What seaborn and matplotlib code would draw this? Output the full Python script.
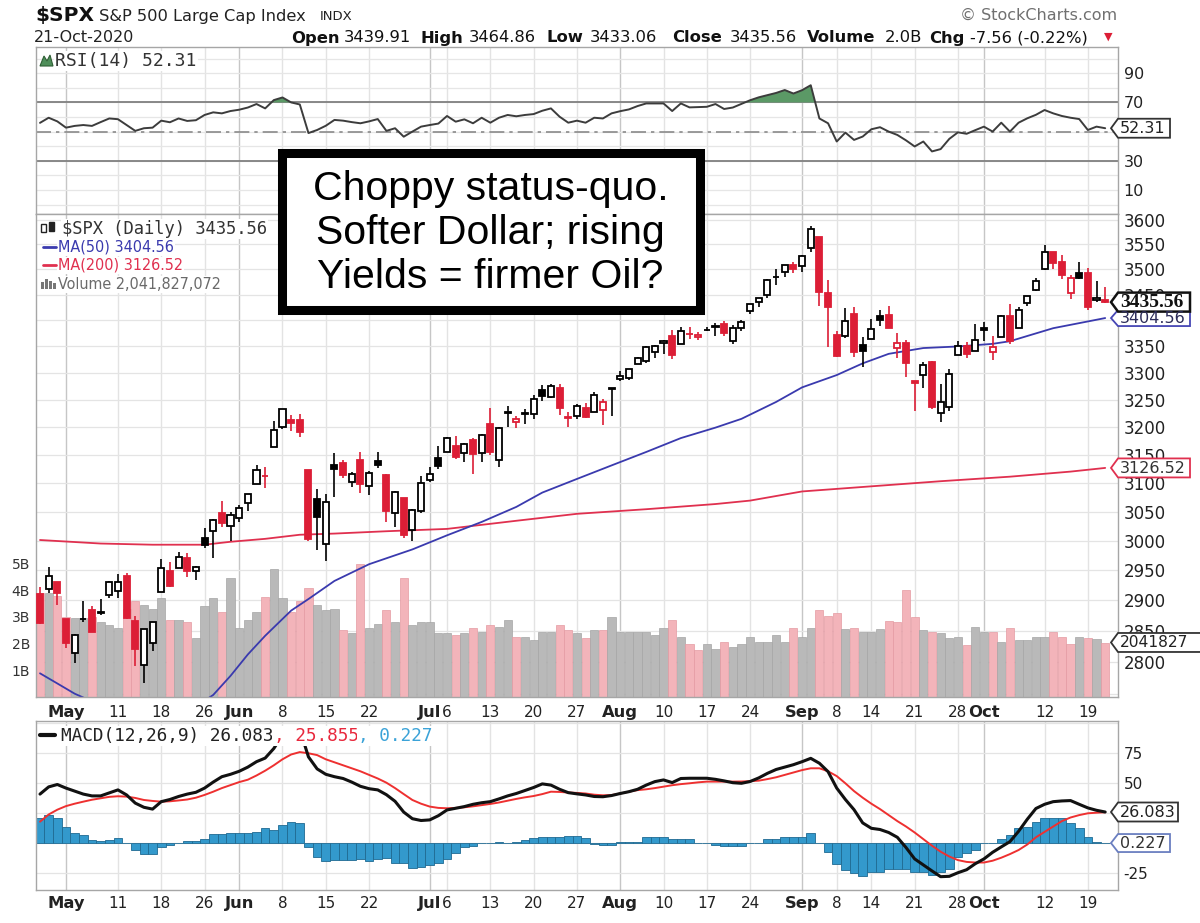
import numpy as np
import pandas as pd
import matplotlib
matplotlib.use("Agg")
import matplotlib.pyplot as plt
from matplotlib.patches import Rectangle, Polygon
from matplotlib.lines import Line2D
from matplotlib.transforms import blended_transform_factory
from matplotlib.ticker import NullLocator
import seaborn as sns

# ---------------- data ----------------
holidays = ["2020-05-25", "2020-07-03", "2020-09-07"]
dates = pd.bdate_range("2020-04-28", "2020-10-21", freq="C", holidays=holidays)

prev_close = 2878.48  # 27-Apr close, decides colour of the first candle

opens = [
    2909.96, 2918.46, 2930.91,
    2869.09, 2815.01, 2868.88, 2883.14, 2878.26, 2908.83, 2915.46, 2939.50, 2865.86, 2794.54,
    2829.95, 2913.86, 2948.59, 2953.63, 2969.95, 2948.05, 3004.08, 3015.65, 3046.61, 3025.17,
    3038.78, 3064.78, 3098.90, 3111.56, 3163.84, 3199.92, 3213.32, 3213.42, 3123.53, 3071.04, 2993.76,
    3131.00, 3136.13, 3101.64, 3140.29, 3094.42, 3138.70, 3114.40, 3046.60, 3073.20, 3018.59, 3050.20,
    3105.92, 3143.64, 3155.29, 3166.44, 3153.07, 3176.17, 3152.47, 3205.08, 3141.11, 3225.98, 3208.36,
    3224.21, 3224.29, 3268.52, 3254.86, 3271.64, 3218.58, 3219.84, 3234.27, 3227.22, 3231.76, 3270.45,
    3288.26, 3289.92, 3317.37, 3323.17, 3340.05, 3356.04, 3370.34, 3355.46, 3372.95, 3368.66, 3380.86,
    3387.04, 3392.51, 3360.48, 3386.01, 3418.09, 3435.95, 3449.97, 3485.14, 3494.69, 3509.73,
    3507.44, 3543.76, 3564.74, 3453.60, 3371.88, 3369.82, 3412.56, 3352.70, 3363.56, 3407.73, 3411.23,
    3346.86, 3357.38, 3285.57, 3295.75, 3320.11, 3226.14, 3236.66, 3333.90, 3350.92, 3341.21,
    3385.87, 3338.94, 3367.27, 3408.74, 3384.56, 3434.28, 3459.67, 3500.02, 3534.01, 3515.47, 3453.72,
    3493.50, 3493.66, 3439.38, 3439.91,
]
highs = [
    2921.15, 2954.86, 2930.91,
    2869.09, 2844.24, 2898.23, 2891.11, 2901.92, 2932.16, 2944.25, 2945.82, 2874.14, 2852.80,
    2865.01, 2968.09, 2964.21, 2980.29, 2978.50, 2956.76, 3021.72, 3036.25, 3068.67, 3049.17,
    3062.18, 3081.07, 3130.94, 3128.91, 3211.72, 3233.13, 3222.71, 3223.27, 3123.53, 3088.42, 3079.76,
    3153.45, 3141.16, 3120.00, 3155.53, 3120.92, 3154.90, 3115.01, 3086.25, 3073.73, 3053.89, 3111.51,
    3128.44, 3165.81, 3182.59, 3184.15, 3171.80, 3179.78, 3186.82, 3235.32, 3200.95, 3238.28, 3220.39,
    3233.52, 3258.61, 3277.29, 3279.32, 3279.99, 3227.26, 3241.43, 3243.72, 3264.74, 3250.92, 3272.17,
    3302.73, 3306.84, 3330.77, 3351.03, 3352.54, 3363.29, 3381.01, 3387.89, 3387.24, 3378.51, 3387.59,
    3395.06, 3399.54, 3390.80, 3399.96, 3432.09, 3444.21, 3481.07, 3501.38, 3509.23, 3514.77,
    3528.03, 3588.11, 3564.85, 3479.15, 3379.97, 3424.77, 3425.55, 3368.95, 3402.93, 3419.48, 3428.92,
    3375.17, 3362.27, 3285.57, 3320.31, 3323.35, 3278.70, 3306.88, 3360.74, 3357.92, 3393.56,
    3397.18, 3369.10, 3409.57, 3431.56, 3426.26, 3447.28, 3482.34, 3549.85, 3534.01, 3527.94, 3489.08,
    3515.76, 3502.42, 3476.93, 3464.86,
]
lows = [
    2860.71, 2912.16, 2892.47,
    2821.61, 2797.85, 2863.55, 2847.65, 2876.48, 2902.88, 2903.44, 2869.59, 2793.15, 2766.64,
    2816.78, 2913.86, 2922.35, 2953.63, 2938.57, 2933.59, 2988.17, 2969.75, 3023.40, 2998.61,
    3031.54, 3051.64, 3098.90, 3090.41, 3163.84, 3196.00, 3193.11, 3181.49, 2999.49, 2984.47, 2965.66,
    3076.06, 3108.03, 3093.51, 3083.11, 3079.39, 3127.12, 3032.13, 3024.01, 3004.63, 2999.74, 3047.83,
    3101.17, 3124.52, 3155.29, 3142.93, 3136.53, 3115.70, 3136.22, 3149.43, 3127.66, 3200.76, 3198.59,
    3205.65, 3215.16, 3247.77, 3253.10, 3222.66, 3200.05, 3214.25, 3216.17, 3227.22, 3204.13, 3220.26,
    3284.53, 3286.37, 3317.37, 3318.14, 3328.72, 3335.44, 3326.44, 3355.46, 3363.35, 3361.64, 3379.22,
    3370.15, 3369.66, 3354.69, 3379.31, 3413.13, 3425.84, 3444.15, 3468.35, 3484.32, 3493.25,
    3494.60, 3535.23, 3427.41, 3349.63, 3329.27, 3366.84, 3329.25, 3310.47, 3363.56, 3389.25, 3384.45,
    3328.82, 3292.40, 3229.10, 3270.95, 3232.57, 3209.45, 3228.44, 3332.91, 3327.54, 3340.47,
    3361.39, 3323.69, 3367.27, 3354.54, 3384.56, 3428.15, 3458.07, 3499.61, 3500.86, 3480.55, 3440.89,
    3480.45, 3419.93, 3435.65, 3433.06,
]
closes = [
    2863.39, 2939.51, 2912.43,
    2830.71, 2842.74, 2868.44, 2848.42, 2881.19, 2929.80, 2930.19, 2870.12, 2820.00, 2852.50,
    2863.70, 2953.91, 2922.94, 2971.61, 2948.51, 2955.45, 2991.77, 3036.13, 3029.73, 3044.31,
    3055.73, 3080.82, 3122.87, 3112.35, 3193.93, 3232.39, 3207.18, 3190.14, 3002.10, 3041.31, 3066.59,
    3124.74, 3113.49, 3115.34, 3097.74, 3117.86, 3131.29, 3050.33, 3083.76, 3009.05, 3053.24, 3100.29,
    3115.86, 3130.01, 3179.72, 3145.32, 3169.94, 3152.05, 3185.04, 3155.22, 3197.52, 3226.56, 3215.57,
    3224.73, 3251.84, 3257.30, 3276.02, 3235.66, 3215.63, 3239.41, 3218.44, 3258.44, 3246.22, 3271.12,
    3294.61, 3306.51, 3327.77, 3349.16, 3351.28, 3360.47, 3333.69, 3380.35, 3373.43, 3372.85, 3381.99,
    3389.78, 3374.85, 3385.51, 3397.16, 3431.28, 3443.62, 3478.73, 3484.55, 3508.01, 3500.31,
    3526.65, 3580.84, 3455.06, 3426.96, 3331.84, 3398.96, 3339.19, 3340.97, 3383.54, 3401.20, 3385.49,
    3357.01, 3319.47, 3281.06, 3315.57, 3236.92, 3246.59, 3298.46, 3351.60, 3335.47, 3363.00,
    3380.80, 3348.42, 3408.60, 3360.97, 3419.44, 3446.83, 3477.14, 3534.22, 3511.93, 3488.67, 3483.34,
    3483.81, 3426.92, 3443.12, 3435.56,
]
# volume in billions of shares
volume_b = [
    3.9, 3.9, 3.8, 3.0, 2.95, 2.95, 3.0, 2.8, 2.7, 2.6,
    3.3, 3.6, 3.45, 3.3, 3.7, 2.9, 2.9, 2.8, 2.2, 3.4,
    3.7, 3.2, 4.45, 2.6, 2.9, 3.2, 3.75, 4.8, 3.7, 3.2,
    3.6, 4.1, 3.45, 3.25, 3.3, 2.5, 2.4, 5.0, 2.6, 2.75,
    3.26, 2.8, 4.45, 2.7, 2.8, 2.8, 2.4, 2.4, 2.33, 2.4,
    2.6, 2.45, 2.7, 2.63, 2.88, 2.26, 2.26, 2.13, 2.45, 2.45,
    2.7, 2.5, 2.4, 2.2, 2.5, 2.5, 3.0, 2.45, 2.45, 2.45,
    2.45, 2.33, 2.6, 2.9, 2.26, 2.0, 1.75, 2.0, 1.8, 2.06,
    1.88, 1.97, 2.26, 2.06, 2.06, 2.33, 2.06, 2.6, 2.26, 2.6,
    3.26, 3.05, 3.13, 2.55, 2.6, 2.42, 2.42, 2.55, 2.85, 2.8,
    4.0, 3.0, 2.5, 2.45, 2.38, 2.2, 2.26, 1.95, 2.63, 2.42,
    2.42, 2.06, 2.57, 2.13, 2.13, 2.26, 2.26, 2.42, 2.26, 2.0,
    2.26, 2.2, 2.17, 2.04,
]
rsi = [
    56, 59.5, 57, 52.7, 53.9, 54.5, 53.9, 56.5, 59, 58.5,
    54.5, 50.5, 52.3, 52.7, 57.5, 56.4, 59, 57.3, 57.8, 61.4,
    63.2, 62.5, 64.1, 65, 66.5, 68.9, 65.9, 71.6, 73.4, 70,
    68.6, 49, 51.1, 54, 58, 57.5, 56.5, 55.7, 57, 58.6,
    50.5, 52.3, 46.5, 50, 53.4, 54.5, 55.5, 60.7, 56.8, 58.4,
    55.7, 59.5, 56.1, 59.5, 61.4, 60.5, 61.4, 62, 64.3, 65.9,
    60.2, 56.1, 57.5, 56.1, 59.5, 59, 62.5, 64, 65.2, 67.5,
    69.3, 69.3, 69.3, 64.1, 69.3, 66.6, 66.8, 67, 68.9, 65.5,
    66.5, 69, 71.5, 73.5, 75, 76.5, 78.5, 76.1, 78.4, 81.8,
    59, 55.7, 43.2, 49.3, 44.3, 46.6, 51.6, 53, 50, 47.7,
    44, 39.8, 43.2, 36.4, 38, 45, 49.5, 48.5, 51, 53.4,
    50, 56.1, 50, 56.1, 59.1, 61.5, 64.8, 62.5, 60.7, 59.5,
    58.6, 51.1, 53.4, 52.31,
]
macd = [
    41, 47, 49, 46, 43.5, 41, 39.5, 39.5, 42, 44.5,
    40.3, 33.5, 30, 28.5, 34.7, 36.5, 39, 41, 42.5, 46,
    51, 55.5, 57.5, 60, 63.5, 68, 71, 79, 90, 96,
    95, 72, 62, 57.5, 55.5, 54, 51, 47.5, 45.5, 44.5,
    40.5, 35, 26, 20.5, 19, 19.5, 23, 27.8, 29.2, 30.6,
    32.5, 33.8, 34.7, 37, 39.5, 41.5, 44, 46.5, 49.5, 48.5,
    45, 42.2, 41.2, 40.3, 39, 38.8, 39.8, 41.5, 43, 45,
    48.5, 51.4, 52.8, 50.6, 54, 54.2, 54.2, 54.2, 53.3, 52,
    50.5, 50, 51.5, 54.5, 58.3, 61.5, 63.5, 65.5, 68, 70.8,
    66.7, 59.7, 46, 36.5, 28, 17, 12.5, 11.5, 9, 5,
    -3.5, -13, -18, -23, -27.8, -27.5, -24.5, -22, -17, -13,
    -7.5, -3, 1.4, 10, 20, 29, 32.5, 34.7, 35.3, 35.6,
    32.5, 29.5, 27.5, 26.083,
]
signal = [
    18, 24, 28, 31, 33, 34.7, 36.3, 37.5, 38.7, 39.2,
    38.9, 37.8, 36.1, 35.3, 34.7, 35, 35.7, 36.5, 38, 40.3,
    43, 46, 48.5, 51, 53, 56.5, 60.5, 65, 70, 74,
    76, 75, 73.5, 70, 67.5, 65, 62.5, 60, 57, 54,
    50.5, 46, 41, 36.1, 33, 30.6, 29.5, 29.2, 29.5, 30,
    30.8, 31.8, 32.8, 34, 35.5, 37, 38.3, 39.4, 41, 43,
    42.8, 42.3, 42, 41.5, 40.5, 40, 40.2, 41.5, 43, 44.3,
    45, 46, 47.2, 48.4, 49.3, 50, 50.8, 51.4, 51.4, 51.4,
    51.4, 51.5, 51.8, 52.2, 53.5, 55, 57, 59, 61, 62.5,
    62.5, 60, 56, 50, 43.5, 38, 33, 28.5, 23.5, 18.5,
    14, 9, 3.5, -2, -7, -11, -14, -15.5, -16, -16,
    -14.5, -12, -9, -5.6, -1, 5, 9.5, 14, 18.5, 21.5,
    23.5, 25, 25.5, 25.855,
]
hist = [
    21, 23.6, 20.8, 13.9, 8.3, 6.9, 2.8, 2.2, 3, 4.5,
    0.6, -5.6, -8.9, -8.9, -2.8, -1.4, 0.6, 2.2, 2.2, 3.5,
    7.8, 7.8, 8.9, 8.9, 8.9, 9.7, 12.5, 11.1, 15.3, 18,
    16.7, -3, -11, -14.4, -13.9, -13.9, -13.9, -13.3, -14.4, -13.3,
    -12.5, -16.1, -16.1, -20.8, -19.4, -18, -16.7, -13.3, -8.3, -2.8,
    -2.2, 0, 0.6, 1.4, 0.6, 1.4, 2.8, 4.2, 5, 5.6,
    5, 6.1, 6.1, 4.2, -0.6, -1.4, -1.4, 1.4, 1.4, 1.4,
    5, 5, 5, 3.3, 3.3, 3.3, 0.5, 0.5, -1, -2.2,
    -2.2, -2.2, 0, 0.5, 3.3, 3.3, 5, 5, 5, 8.9,
    0.5, -7, -17, -22, -25, -27, -23.6, -23.6, -21.7, -21.7,
    -21.7, -23.6, -23.6, -26, -24, -21, -11, -8, -5.5, 0,
    0, 4, 7, 12.5, 14, 18, 20.8, 20.8, 20.8, 16.7,
    12.5, 5.6, 1.4, 0.227,
]
# moving averages, read at these trading-day positions
ma50_day = [0, 2, 4, 6, 10, 14, 18, 20, 22, 24, 26, 29, 31, 34, 38, 40, 43, 47, 51, 55,
            58, 62, 66, 70, 74, 78, 81, 85, 88, 92, 95, 98, 102, 106, 110, 112, 114, 117, 121, 123]
ma50 = [2782, 2766, 2750, 2738, 2726, 2722, 2730, 2748, 2778, 2812, 2842, 2883, 2902, 2932, 2960,
        2970, 2985, 3009, 3032, 3058, 3083, 3107, 3131, 3155, 3180, 3199, 3215, 3246, 3273, 3296,
        3318, 3336, 3347, 3350, 3355, 3360, 3370, 3385, 3398, 3404.56]
ma200_day = [0, 7, 13, 19, 22, 26, 30, 34, 40, 47, 55, 62, 70, 78, 82, 88, 96, 104, 112, 119, 123]
ma200 = [3001, 2995, 2993, 2993, 2998, 3003, 3010, 3012, 3016, 3020, 3034, 3046, 3054, 3063,
         3069, 3085, 3094, 3103, 3111, 3120, 3126.52]

tick_dates = ["2020-05-01", "2020-05-11", "2020-05-18", "2020-05-26", "2020-06-01", "2020-06-08",
              "2020-06-15", "2020-06-22", "2020-07-01", "2020-07-06", "2020-07-13", "2020-07-20",
              "2020-07-27", "2020-08-03", "2020-08-10", "2020-08-17", "2020-08-24", "2020-09-01",
              "2020-09-08", "2020-09-14", "2020-09-21", "2020-09-28", "2020-10-01", "2020-10-12",
              "2020-10-19"]
tick_text = ["May", "11", "18", "26", "Jun", "8", "15", "22", "Jul", "6", "13", "20", "27",
             "Aug", "10", "17", "24", "Sep", "8", "14", "21", "28", "Oct", "12", "19"]
tick_month = [t.isalpha() for t in tick_text]

price_ticks = [2800, 2850, 2900, 2950, 3000, 3050, 3100, 3150, 3200, 3250, 3300, 3350, 3450,
               3500, 3550, 3600]
macd_ticks = [-25, 50, 75]
rsi_ticks = [10, 30, 70, 90]

# ---------------- figure ----------------
sns.set_style("white")
plt.rcParams["font.family"] = ["DejaVu Sans"]

W, H = 1200, 923
fig = plt.figure(figsize=(W / 100, H / 100), dpi=100)


def frect(x0, y0, x1, y1):
    return [x0 / W, 1 - y1 / H, (x1 - x0) / W, (y1 - y0) / H]


def fpt(x, y):
    return (x / W, 1 - y / H)


L, R = 35.5, 1118
ax_rsi = fig.add_axes(frect(L, 47, R, 214))
ax_vl = fig.add_axes(frect(L, 214, R, 697))
ax_px = fig.add_axes(frect(L, 214, R, 697))
ax_macd = fig.add_axes(frect(L, 721, R, 890))

n = len(dates)
idx = np.arange(n)
o = np.array(opens); h = np.array(highs); lo = np.array(lows); c = np.array(closes)
vol = np.array(volume_b)
rsi_a = np.array(rsi)
prev = np.concatenate([[prev_close], c[:-1]])
up_day = c >= prev

RED = "#dc1e36"
XL = (-0.52, 124.48)
tick_idx = dates.get_indexer(pd.to_datetime(tick_dates))

# vertical grid lines and frames
for ax in (ax_rsi, ax_px, ax_macd):
    for ti, m in zip(tick_idx, tick_month):
        ax.axvline(ti, color="#c6c6c6" if m else "#e3e3e3", lw=1.0, zorder=0)
    for s in ax.spines.values():
        s.set_color("#a6a6a6")
        s.set_linewidth(1.0)
    ax.set_xticks([])
    ax.set_xlim(*XL)

# ---- RSI panel ----
ax_rsi.set_ylim(-6.5, 108)
for v in range(0, 101, 10):
    ax_rsi.axhline(v, color="#e6e6e6", lw=0.9, zorder=0)
ax_rsi.axhline(70, color="#7f7f7f", lw=1.3, zorder=1)
ax_rsi.axhline(30, color="#7f7f7f", lw=1.3, zorder=1)
ax_rsi.axhline(50, color="#8a8a8a", lw=1.2, ls=(0, (9, 3, 2, 3)), zorder=1)
ax_rsi.fill_between(idx, rsi_a, 70, where=rsi_a >= 70, interpolate=True,
                    color="#5b9966", lw=0, zorder=2)
sns.lineplot(x=idx, y=rsi_a, ax=ax_rsi, color="#3c3c3c", lw=1.4, zorder=3)
ax_rsi.yaxis.tick_right()
ax_rsi.set_yticks(rsi_ticks, [str(v) for v in rsi_ticks])
ax_rsi.tick_params(axis="y", length=0, pad=4, labelsize=11.5, labelcolor="#222222")

# ---- price panel ----
vol_top = 18.09
vcol = np.where(up_day, "#b9b9b9", "#f3b4ba")
vedge = np.where(up_day, "#a5a5a5", "#e49aa2")
ax_px.bar(idx, vol / vol_top, width=0.94, bottom=0, color=vcol, edgecolor=vedge, linewidth=0.5,
          transform=ax_px.get_xaxis_transform(), zorder=1)
ax_px.set_yscale("log")
ax_px.set_ylim(2744.8, 3612)
for v in range(2750, 3601, 50):
    ax_px.axhline(v, color="#e4e4e4", lw=0.9, zorder=0)

sns.lineplot(x=ma200_day, y=ma200, ax=ax_px, color="#e0304f", lw=1.3, zorder=2)
sns.lineplot(x=ma50_day, y=ma50, ax=ax_px, color="#3a3aae", lw=1.3, zorder=2)

ccol = np.where(up_day, "black", RED)
face = np.where(c >= o, "white", ccol)
ax_px.vlines(idx, lo, h, colors=ccol, lw=1.2, zorder=3)
body_lo = np.minimum(o, c)
body_h = np.maximum(np.abs(c - o), 0.8)
ax_px.bar(idx, body_h, bottom=body_lo, width=0.7, color=face, edgecolor=ccol, linewidth=1.3, zorder=4)

ax_px.yaxis.tick_right()
ax_px.set_yticks(price_ticks, [str(v) for v in price_ticks])
ax_px.yaxis.set_minor_locator(NullLocator())
ax_px.tick_params(axis="y", which="both", length=0, pad=4, labelsize=12, labelcolor="#222222")
ax_px.set_xlim(*XL)
ax_px.set_ylim(2744.8, 3612)

ax_vl.set_ylim(0, vol_top)
ax_vl.set_xlim(*XL)
ax_vl.set_xticks([])
ax_vl.set_yticks([1, 2, 3, 4, 5], ["1B", "2B", "3B", "4B", "5B"])
ax_vl.tick_params(axis="y", length=0, pad=4, labelsize=10, labelcolor="#333333")
for s in ax_vl.spines.values():
    s.set_visible(False)

# ---- MACD panel ----
for v in (-25, 0, 25, 50, 75, 100):
    ax_macd.axhline(v, color="#e4e4e4", lw=0.9, zorder=0)
sns.barplot(x=idx, y=hist, ax=ax_macd, native_scale=True, width=1.0, color="#3399cc",
            saturation=1, edgecolor="#1f6a92", linewidth=0.6, errorbar=None, zorder=1)
sns.lineplot(x=idx, y=signal, ax=ax_macd, color="#ee3030", lw=1.4, zorder=2)
sns.lineplot(x=idx, y=macd, ax=ax_macd, color="#111111", lw=2.2, zorder=3)
ax_macd.set_xlim(*XL)
ax_macd.set_xticks([])
ax_macd.set_ylim(-38.9, 101.9)
ax_macd.yaxis.tick_right()
ax_macd.set_yticks(macd_ticks, [str(v) for v in macd_ticks])
ax_macd.tick_params(axis="y", length=0, pad=4, labelsize=11, labelcolor="#222222")
for ax in (ax_rsi, ax_px, ax_macd):
    ax.set_xlabel(""); ax.set_ylabel("")

# ---- x labels (two rows) ----
for ax_ref, base in ((ax_px, 717), (ax_macd, 908)):
    tr = blended_transform_factory(ax_ref.transData, fig.transFigure)
    for ti, t, m in zip(tick_idx, tick_text, tick_month):
        fig.text(ti, 1 - base / H, t, transform=tr, ha="center", va="baseline",
                 fontsize=11.8 if m else 11, fontweight="bold" if m else "normal", color="#222222")

# ---- header ----
fig.text(*fpt(35, 20.5), "$SPX", fontsize=14.5, fontweight="bold", va="baseline", color="#111111")
fig.text(*fpt(99, 20.5), "S&P 500 Large Cap Index", fontsize=11.7, va="baseline", color="#222222")
fig.text(*fpt(320, 20.5), "INDX", fontsize=9.5, va="baseline", color="#222222")
fig.text(*fpt(1117, 20), "\u00a9 StockCharts.com", fontsize=11.5, va="baseline", ha="right", color="#707070")
fig.text(*fpt(34, 42.5), "21-Oct-2020", fontsize=11.5, va="baseline", color="#222222")
stats = [("Open", 291, True), ("3439.91", 344, False), ("High", 421, True), ("3464.86", 469, False),
         ("Low", 547, True), ("3433.06", 590, False), ("Close", 672, True), ("3435.56", 730, False),
         ("Volume", 807, True), ("2.0B", 885, False), ("Chg", 929, True), ("-7.56 (-0.22%)", 970, False)]
for s, x, b in stats:
    fig.text(*fpt(x, 42.5), s, fontsize=11.8, fontweight="bold" if b else "normal",
             va="baseline", color="#111111")
fig.text(*fpt(1104, 40), "\u25bc", fontsize=8, va="baseline", color=RED)

# ---- legends ----
wbox = dict(boxstyle="square,pad=0.08", fc="white", ec="none")
fig.add_artist(Polygon([fpt(40, 66), fpt(44, 56), fpt(47, 61), fpt(50, 55), fpt(53, 66)],
                       closed=True, transform=fig.transFigure, fc="#4f8f5a", ec="#2f5f35",
                       lw=0.8, zorder=16))
fig.text(*fpt(55, 66), "RSI(14) 52.31", family="DejaVu Sans Mono", fontsize=13,
         va="baseline", color="#333333", bbox=wbox, zorder=15)

# candle icon
fig.add_artist(Rectangle(fpt(41, 232), 5 / W, 8 / H, transform=fig.transFigure,
                         fc="white", ec="#222222", lw=1, zorder=16))
fig.add_artist(Rectangle(fpt(49, 231), 5 / W, 9 / H, transform=fig.transFigure,
                         fc="#222222", ec="#222222", lw=1, zorder=16))
fig.text(*fpt(62, 234), "$SPX (Daily) 3435.56", family="DejaVu Sans Mono", fontsize=12.3,
         va="baseline", color="#333333", bbox=wbox, zorder=15)
fig.add_artist(Line2D([43 / W, 56 / W], [1 - 247 / H] * 2, transform=fig.transFigure,
                      color="#3a3aae", lw=2, zorder=16))
fig.text(*fpt(58, 252), "MA(50) 3404.56", fontsize=11.5, fontstretch="condensed",
         va="baseline", color="#3a3aae", bbox=wbox, zorder=15)
fig.add_artist(Line2D([43 / W, 56 / W], [1 - 265 / H] * 2, transform=fig.transFigure,
                      color="#e0304f", lw=2, zorder=16))
fig.text(*fpt(58, 270), "MA(200) 3126.52", fontsize=11.5, fontstretch="condensed",
         va="baseline", color="#e0304f", bbox=wbox, zorder=15)
for bx, bh in ((41, 7), (45, 10), (49, 8), (53, 6)):
    fig.add_artist(Rectangle(fpt(bx, 289), 3 / W, bh / H, transform=fig.transFigure,
                             fc="#777777", ec="none", zorder=16))
fig.text(*fpt(58, 289), "Volume 2,041,827,072", fontsize=11.5, fontstretch="condensed",
         va="baseline", color="#6a6a6a", bbox=wbox, zorder=15)

fig.add_artist(Line2D([40 / W, 55 / W], [1 - 735 / H] * 2, transform=fig.transFigure,
                      color="#111111", lw=3, zorder=16))
rend = fig.canvas.get_renderer()
xcur = 61
for s, col in (("MACD(12,26,9) 26.083", "#222222"), (", 25.855", "#e8283c"), (", 0.227", "#3ba3d8")):
    t = fig.text(*fpt(xcur, 741), s, family="DejaVu Sans Mono", fontsize=12.8, va="baseline",
                 color=col, bbox=wbox, zorder=15)
    xcur = t.get_window_extent(rend).x1


# ---- value tags on the right ----
def tag(ax, value, text, edge, tcolor, x_right, hgt, fs, family="DejaVu Sans", weight="normal", lw=1.3):
    yc = H - ax.transData.transform((0, value))[1]
    pts = [(1111, yc), (1118, yc - hgt / 2), (x_right, yc - hgt / 2),
           (x_right, yc + hgt / 2), (1118, yc + hgt / 2)]
    fig.add_artist(Polygon([fpt(*p) for p in pts], closed=True, transform=fig.transFigure,
                           fc="white", ec=edge, lw=lw, zorder=20))
    fig.text(*fpt(1120, yc + 0.5), text, family=family, fontweight=weight, fontsize=fs,
             va="center", ha="left", color=tcolor, zorder=21)


tag(ax_rsi, 52.31, "52.31", "#333333", "#222222", 1170, 19, 11.5)
tag(ax_px, 3404.56, "3404.56", "#4646b4", "#2d2d5a", 1190, 16, 11.5)
tag(ax_px, 3435.56, "3435.56", "#111111", "#111111", 1190, 19, 14, family="Liberation Serif",
    weight="bold", lw=1.8)
tag(ax_px, 3126.52, "3126.52", "#e0304f", "#333333", 1190, 19, 11.5)
tag(ax_vl, 2.0418, "2041827", "#333333", "#222222", 1205, 19, 11.2)
tag(ax_macd, 26.083, "26.083", "#333333", "#222222", 1178, 19, 11.5)
tag(ax_macd, 0.227, "0.227", "#6a7ec0", "#333333", 1170, 18, 11.5)

# ---- commentary box ----
fig.add_artist(Rectangle(fpt(281.5, 310.5), (699.5 - 281.5) / W, (310.5 - 153.5) / H,
                         transform=fig.transFigure, fc="white", ec="black", lw=6.5, zorder=30))
fig.text(490.5 / W, 1 - 288 / H, "Choppy status-quo.\nSofter Dollar; rising\nYields = firmer Oil?",
         family="Liberation Sans", fontsize=29.5, ha="center", va="baseline", linespacing=1.2,
         color="black", zorder=31)

fig.savefig("out.png", dpi=100)
